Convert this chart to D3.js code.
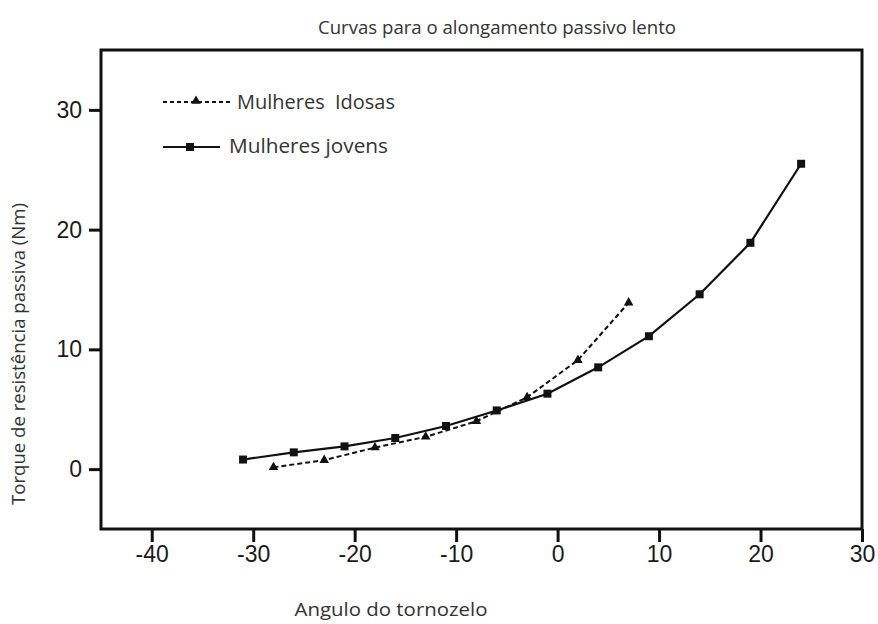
<!DOCTYPE html>
<html>
<head>
<meta charset="utf-8">
<script src="https://cdn.jsdelivr.net/npm/d3@7"></script>
<style>
  body { margin: 0; background: #fff; }
  svg { display: block; }
</style>
</head>
<body>
<div id="chart"></div>
<script>
// data
var idosasX = [-28, -23, -18, -13, -8, -3, 2, 7]
var idosasY = [0.15, 0.75, 1.8, 2.7, 4.0, 6.0, 9.1, 13.9]
var jovensX = [-31, -26, -21, -16, -11, -6, -1, 4, 9, 14, 19, 24]
var jovensY = [0.8, 1.4, 1.9, 2.6, 3.6, 4.9, 6.3, 8.5, 11.1, 14.6, 18.9, 25.5]
var xTicks = [-40, -30, -20, -10, 0, 10, 20, 30]
var yTicks = [0, 10, 20, 30]

var width = 878,
    height = 624
var margin = { top: 50, right: 16, bottom: 95, left: 101 }

var svg = d3.select('#chart').append('svg')
    .attr('width', width)
    .attr('height', height)

var x = d3.scaleLinear()
    .domain([-45, 30])
    .range([margin.left, width - margin.right])

var y = d3.scaleLinear()
    .domain([-5, 35])
    .range([height - margin.bottom, margin.top])

// frame
svg.append('rect')
    .attr('x', x(-45))
    .attr('y', y(35))
    .attr('width', x(30) - x(-45))
    .attr('height', y(-5) - y(35))
    .style('fill', 'none')
    .style('stroke', '#111')
    .style('stroke-width', 3)

var axisBottom = d3.axisBottom(x)
    .tickValues(xTicks)
    .tickFormat(d => String(d))
    .tickSize(13)
    .tickPadding(4)
svg.append('g').attr('class', 'axes')
    .attr('transform', `translate(0, ${y(-5)})`)
    .call(axisBottom)

var axisLeft = d3.axisLeft(y)
    .tickValues(yTicks)
    .tickFormat(d => String(d))
    .tickSize(12)
    .tickPadding(7)
svg.append('g').attr('class', 'axes')
    .attr('transform', `translate(${x(-45)}, 0)`)
    .call(axisLeft)

svg.selectAll('.axes .domain').remove()
svg.selectAll('.axes .tick line')
    .style('stroke', '#111')
    .style('stroke-width', 3)
svg.selectAll('.axes .tick text')
    .style('font-family', 'Liberation Sans, Arial, sans-serif')
    .style('font-size', '23px')
    .style('fill', '#1a1a1a')

var idosas = idosasX.map((d, i) => ({ x: d, y: idosasY[i] }))
var jovens = jovensX.map((d, i) => ({ x: d, y: jovensY[i] }))

var line = d3.line()
    .x(d => x(d.x))
    .y(d => y(d.y))

svg.append('path')
    .datum(jovens)
    .attr('d', line)
    .style('fill', 'none')
    .style('stroke', '#111')
    .style('stroke-width', 2.2)

svg.append('path')
    .datum(idosas)
    .attr('d', line)
    .style('fill', 'none')
    .style('stroke', '#111')
    .style('stroke-width', 2)
    .style('stroke-dasharray', '5,3')

var square = d3.symbol().type(d3.symbolSquare).size(64)
var triangle = d3.symbol().type(d3.symbolTriangle).size(40)

svg.append('g')
    .selectAll('path')
    .data(jovens)
    .enter().append('path')
    .attr('d', square)
    .attr('transform', d => `translate(${x(d.x)}, ${y(d.y)})`)
    .style('fill', '#111')

svg.append('g')
    .selectAll('path')
    .data(idosas)
    .enter().append('path')
    .attr('d', triangle)
    .attr('transform', d => `translate(${x(d.x)}, ${y(d.y)})`)
    .style('fill', '#111')

// legend
var legend = svg.append('g')
    .style('font-family', 'Open Sans, Noto Sans, sans-serif')
    .style('font-size', '20px')
    .style('fill', '#333')

legend.append('line')
    .attr('x1', 163).attr('x2', 230)
    .attr('y1', 102).attr('y2', 102)
    .style('stroke', '#111')
    .style('stroke-width', 2)
    .style('stroke-dasharray', '4,3')
legend.append('path')
    .attr('d', triangle)
    .attr('transform', 'translate(196, 101)')
    .style('fill', '#111')
legend.append('text')
    .attr('x', 237).attr('y', 109)
    .attr('xml:space', 'preserve')
    .style('white-space', 'pre')
    .attr('textLength', 158)
    .attr('lengthAdjust', 'spacingAndGlyphs')
    .text('Mulheres  Idosas')

legend.append('line')
    .attr('x1', 163).attr('x2', 220)
    .attr('y1', 147).attr('y2', 147)
    .style('stroke', '#111')
    .style('stroke-width', 2)
legend.append('path')
    .attr('d', square)
    .attr('transform', 'translate(190, 147)')
    .style('fill', '#111')
legend.append('text')
    .attr('x', 229).attr('y', 153)
    .attr('textLength', 159)
    .attr('lengthAdjust', 'spacingAndGlyphs')
    .text('Mulheres jovens')

// titles
function label(sel, size, len) {
    sel.attr('text-anchor', 'middle')
        .attr('textLength', len)
        .attr('lengthAdjust', 'spacingAndGlyphs')
        .style('font-family', 'Open Sans, Noto Sans, sans-serif')
        .style('font-size', size + 'px')
        .style('fill', '#333')
}

svg.append('text')
    .attr('x', 497).attr('y', 34)
    .call(label, 18, 358)
    .text('Curvas para o alongamento passivo lento')

svg.append('text')
    .attr('x', 391).attr('y', 616)
    .call(label, 18, 193)
    .text('Angulo do tornozelo')

svg.append('text')
    .attr('transform', 'translate(25, 354) rotate(-90)')
    .call(label, 18, 302)
    .text('Torque de resistência passiva (Nm)')
</script>
</body>
</html>
